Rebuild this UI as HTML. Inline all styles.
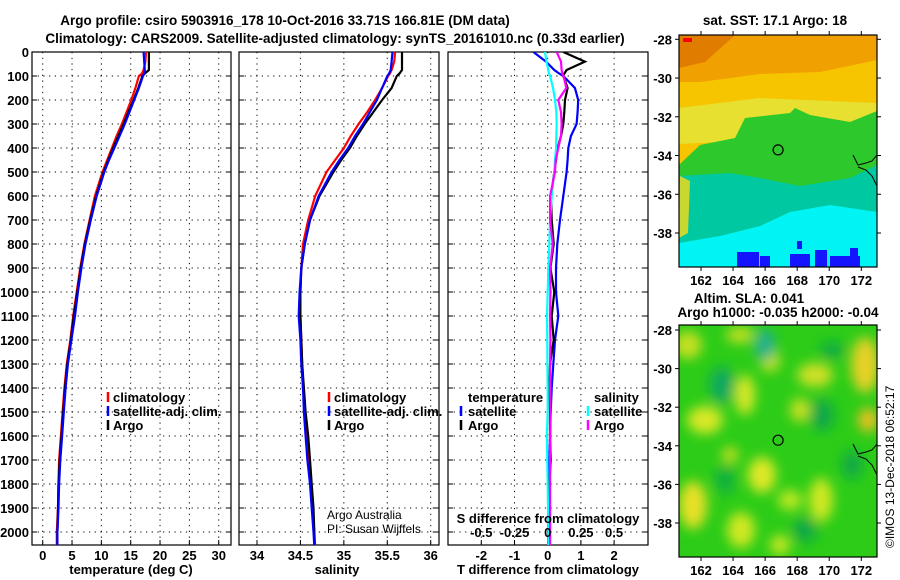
<!DOCTYPE html>
<html><head><meta charset="utf-8">
<style>
html,body{margin:0;padding:0;background:#fff;}
svg{display:block;font-family:"Liberation Sans",sans-serif;}
.t{font-weight:bold;font-size:13.5px;}
.tk{font-weight:bold;font-size:13px;}
</style></head>
<body>
<svg id="chart" width="900" height="580" viewBox="0 0 900 580">
<defs>
<clipPath id="c1"><rect x="32" y="52" width="199" height="493"/></clipPath>
<clipPath id="c2"><rect x="239" y="52" width="200" height="493"/></clipPath>
<clipPath id="c3"><rect x="448" y="52" width="200" height="493"/></clipPath>
<clipPath id="cm1"><rect x="679" y="35" width="198" height="232"/></clipPath>
<clipPath id="cm2"><rect x="679" y="325" width="198" height="232"/></clipPath>
<filter id="bl" x="-50%" y="-50%" width="200%" height="200%"><feGaussianBlur stdDeviation="6"/></filter>
</defs>
<text x="285" y="25" text-anchor="middle" class="t">Argo profile: csiro 5903916_178 10-Oct-2016 33.71S 166.81E (DM data)</text>
<text x="335" y="43" text-anchor="middle" class="t">Climatology: CARS2009. Satellite-adjusted climatology: synTS_20161010.nc (0.33d earlier)</text>
<g id="g"></g>
</svg>
<script>
// ---- data ----
const depths   = [0,40,75,90,100,150,200,250,300,350,400,450,500,600,700,800,900,1000,1100,1200,1300,1400,1500,1600,1700,1800,1900,2000,2060];
const tempClim = [17.6,17.5,17.2,16.9,16.4,15.8,15.1,14.3,13.5,12.6,11.8,11.0,10.2,8.9,8.0,7.1,6.4,5.8,5.2,4.7,4.1,3.7,3.4,3.1,2.8,2.7,2.6,2.4,2.4];
const tempSat  = [17.2,17.3,17.4,17.3,17.1,16.4,15.6,14.8,14.0,13.1,12.2,11.3,10.5,9.2,8.2,7.3,6.6,6.0,5.5,4.9,4.3,3.9,3.6,3.3,3.0,2.8,2.7,2.5,2.5];
const tempArgo = [18.1,18.1,18.1,17.4,17.0,16.3,15.5,14.6,13.8,12.9,12.0,11.2,10.4,9.1,8.1,7.2,6.5,5.9,5.3,4.8,4.2,3.8,3.5,3.2,2.9,2.7,2.6,2.5,2.5];
const salClim  = [35.59,35.58,35.55,35.53,35.51,35.44,35.36,35.27,35.17,35.08,35.00,34.90,34.80,34.67,34.59,34.53,34.51,34.50,34.50,34.51,34.52,34.53,34.55,34.57,34.60,34.62,34.64,34.66,34.67];
const salSat   = [35.56,35.55,35.54,35.52,35.50,35.44,35.38,35.30,35.22,35.13,35.05,34.95,34.86,34.71,34.61,34.55,34.51,34.49,34.48,34.50,34.51,34.53,34.54,34.56,34.58,34.61,34.63,34.65,34.66];
const salArgo  = [35.67,35.67,35.67,35.64,35.61,35.55,35.44,35.34,35.24,35.15,35.07,34.97,34.88,34.72,34.61,34.55,34.51,34.50,34.50,34.51,34.52,34.54,34.56,34.59,34.61,34.63,34.65,34.66,34.66];
const dTSat    = [-0.43,-0.05,0.2,0.35,0.47,0.82,0.92,0.9,0.87,0.7,0.62,0.6,0.57,0.47,0.37,0.29,0.25,0.25,0.32,0.22,0.17,0.12,0.09,0.07,0.05,0.04,0.03,0.02,0.02];
const dTArgo   = [0.47,1.12,0.57,0.5,0.47,0.6,0.52,0.5,0.47,0.4,0.3,0.25,0.2,0.1,0.12,0.18,0.08,0.2,0.12,0.18,0.07,0.05,0.07,0.07,0.09,0.05,0.04,0.02,0.02];
const dSSat    = [-0.02,-0.01,0.005,0.01,0.018,0.04,0.055,0.065,0.068,0.065,0.063,0.055,0.05,0.03,0.018,0.012,0.005,0.0,-0.005,-0.003,-0.002,0.0,0.0,-0.007,-0.003,0.0,0.002,0.005,0.005];
const dSArgo   = [0.068,0.1,0.105,0.11,0.12,0.14,0.08,0.1,0.105,0.1,0.08,0.06,0.055,0.018,0.018,0.038,0.018,0.02,0.018,0.02,0.018,0.018,0.02,0.018,0.018,0.018,0.018,0.018,0.018];
const depthTicks = [0,100,200,300,400,500,600,700,800,900,1000,1100,1200,1300,1400,1500,1600,1700,1800,1900,2000];
const tempTicks = [0,5,10,15,20,25,30];
const salTicks = [34,34.5,35,35.5,36];
const dTTicks = [-2,-1,0,1,2];
const dSTicks = [-0.5,-0.25,0,0.25,0.5];
const lonTicks = [162,164,166,168,170,172];
const latTicks = [-28,-30,-32,-34,-36,-38];
const argoLon = 166.81, argoLat = -33.71;

// ---- scales ----
const NS='http://www.w3.org/2000/svg';
const G=document.getElementById('g');
function mk(tag,a,parent){const e=document.createElementNS(NS,tag);for(const k in a)e.setAttribute(k,a[k]);(parent||G).appendChild(e);return e;}
const TOP=52, BOT=545;
const yD=d=>TOP+d*0.24;
const xT=t=>42.7+t*5.867;
const xS=s=>257+(s-34)*86.85;
const xDT=v=>547.7+v*33.2;
const xDS=v=>547.7+v*4*33.2;
const xLon=l=>701+(l-162)*16.03;
const yLat1=l=>39.3+(-28-l)*19.37;
const yLat2=l=>330+(-28-l)*19.3;

function panel(x0,x1,name,xs,ticks,fmt,showX){
  for(const d of depthTicks){
    const l=mk('line',{x1:x0,x2:x1,y1:yD(d),y2:yD(d),stroke:'#000','stroke-dasharray':'1.2 4.5','stroke-width':1});
    
    
    const tk=mk('line',{x1:x0,x2:x0+5,y1:yD(d),y2:yD(d),stroke:'#000'});
    
    
    const tk2=mk('line',{x1:x1-5,x2:x1,y1:yD(d),y2:yD(d),stroke:'#000'});
    
    
  }
  for(const v of ticks){
    const x=xs(v);
    const l=mk('line',{x1:x,x2:x,y1:TOP,y2:BOT,stroke:'#000','stroke-dasharray':'1.2 4.5'});
    
    
    const tk=mk('line',{x1:x,x2:x,y1:BOT-5,y2:BOT,stroke:'#000'});
    
    
    if(showX){
      const t=mk('text',{x:x,y:560,'text-anchor':'middle','class':'tk'});
      t.textContent=fmt(v);
      
      
    }
  }
  const r=mk('rect',{x:x0,y:TOP,width:x1-x0,height:BOT-TOP,fill:'none',stroke:'#000','stroke-width':1.2});
  
  
}
function series(vals,xs,color,clip,name){
  const pts=vals.map((v,i)=>xs(v).toFixed(1)+','+yD(depths[i]).toFixed(1)).join(' ');
  const p=mk('polyline',{points:pts,fill:'none',stroke:color,'stroke-width':2.2,'clip-path':'url(#'+clip+')'});
  
  
}
function txt(x,y,s,name,extra){const t=mk('text',Object.assign({x:x,y:y},extra||{}));t.textContent=s;
  
  return t;}
function legMark(x,y,color,name){const l=mk('line',{x1:x,x2:x,y1:y-10,y2:y,stroke:color,'stroke-width':2.5});
  
  }

for(const d of depthTicks){txt(29,yD(d)+5,String(d),'depth-tick-label',{'text-anchor':'end','class':'tk'});}

const L1=402,L2=416,L3=430;
// panel 1
panel(32,231,'temp-panel',xT,tempTicks,String,true);
series(tempClim,xT,'#ff0000','c1','temp-climatology-line');
series(tempArgo,xT,'#000000','c1','temp-argo-line');
series(tempSat,xT,'#0000ff','c1','temp-satellite-line');
txt(131,574,'temperature (deg C)','temp-x-axis-title',{'text-anchor':'middle','class':'tk'});
legMark(108,L1,'#ff0000','legend-climatology-marker');txt(113,L1,'climatology','legend-climatology',{'class':'tk'});
legMark(108,L2,'#0000ff','legend-satellite-marker');txt(113,L2,'satellite-adj. clim.','legend-satellite',{'class':'tk'});
legMark(108,L3,'#000','legend-argo-marker');txt(113,L3,'Argo','legend-argo',{'class':'tk'});

// panel 2
panel(239,439,'sal-panel',xS,salTicks,String,true);
series(salClim,xS,'#ff0000','c2','sal-climatology-line');
series(salArgo,xS,'#000000','c2','sal-argo-line');
series(salSat,xS,'#0000ff','c2','sal-satellite-line');
txt(337,574,'salinity','sal-x-axis-title',{'text-anchor':'middle','class':'tk'});
legMark(329,L1,'#ff0000','legend2-climatology-marker');txt(334,L1,'climatology','legend2-climatology',{'class':'tk'});
legMark(329,L2,'#0000ff','legend2-satellite-marker');txt(334,L2,'satellite-adj. clim.','legend2-satellite',{'class':'tk'});
legMark(329,L3,'#000','legend2-argo-marker');txt(334,L3,'Argo','legend2-argo',{'class':'tk'});
txt(327,519,'Argo Australia','credit-line-1',{'font-size':'12px'});
txt(327,533,'PI: Susan Wijffels','credit-line-2',{'font-size':'12px'});

// panel 3
panel(448,648,'diff-panel',xDT,dTTicks,String,true);
series(dTSat,xDT,'#0000ff','c3','dT-satellite-line');
series(dTArgo,xDT,'#000000','c3','dT-argo-line');
series(dSSat,xDS,'#00ffff','c3','dS-satellite-line');
series(dSArgo,xDS,'#ff00ff','c3','dS-argo-line');
txt(548,574,'T difference from climatology','dT-x-axis-title',{'text-anchor':'middle','class':'tk'});
txt(548,523,'S difference from climatology','dS-axis-title',{'text-anchor':'middle','class':'tk'});
for(const v of dSTicks){txt(xDS(v),537,String(v),'dS-tick-label',{'text-anchor':'middle','class':'tk'});}
txt(468,L1,'temperature','legend3-temperature',{'class':'tk'});
legMark(461,L2,'#0000ff','legend3-tsat-marker');txt(468,L2,'satellite','legend3-tsat',{'class':'tk'});
legMark(461,L3,'#000','legend3-targo-marker');txt(468,L3,'Argo','legend3-targo',{'class':'tk'});
txt(594,L1,'salinity','legend3-salinity',{'class':'tk'});
legMark(588,L2,'#00ffff','legend3-ssat-marker');txt(594,L2,'satellite','legend3-ssat',{'class':'tk'});
legMark(588,L3,'#ff00ff','legend3-sargo-marker');txt(594,L3,'Argo','legend3-sargo',{'class':'tk'});

// maps
function mapAxes(top,h,yl,name){
  for(const l of latTicks){const y=yl(l);
    txt(672,y+5,String(l),name+'-lat-label',{'text-anchor':'end','class':'tk'});
    const a=mk('line',{x1:675,x2:679,y1:y,y2:y,stroke:'#000'});
    const b=mk('line',{x1:877,x2:881,y1:y,y2:y,stroke:'#000'});}
  for(const l of lonTicks){const x=xLon(l);
    txt(x,top+h+18,String(l),name+'-lon-label',{'text-anchor':'middle','class':'tk'});
    const a=mk('line',{x1:x,x2:x,y1:top-4,y2:top,stroke:'#000'});
    const b=mk('line',{x1:x,x2:x,y1:top+h,y2:top+h+4,stroke:'#000'});}
  const r=mk('rect',{x:679,y:top,width:198,height:h,fill:'none',stroke:'#000','stroke-width':1.2});
  
}
function poly(pts,fill,clip,name,parent){const p=mk('polygon',{points:pts,fill:fill,'clip-path':'url(#'+clip+')'},parent);
  return p;}

// map 1 SST
poly('679,35 877,35 877,267 679,267','#f7c400','cm1','sst-base');
poly('679,35 877,35 877,60 820,72 760,74 700,82 679,82','#f0a000','cm1','sst-warm');
poly('679,35 735,35 705,62 679,68','#e07c00','cm1','sst-warmest');
poly('679,108 760,98 877,103 877,134 679,144','#e8e030','cm1','sst-yellow-band');
poly('679,165 700,145 735,138 745,118 790,113 795,108 810,115 850,122 877,111 877,267 679,267','#2cc82c','cm1','sst-green');
poly('679,176 730,173 760,178 800,186 850,178 877,165 877,267 679,267','#00c8a0','cm1','sst-teal');
poly('679,243 720,236 760,226 790,212 830,205 877,212 877,267 679,267','#00f4f4','cm1','sst-cyan');
poly('680,176 690,181 688,233 679,238','#c8d830','cm1','sst-left-yellow');
const blues=[[737,252,22,16],[760,256,10,12],[790,254,20,14],[815,250,12,17],[830,256,30,11],[850,248,8,19],[797,241,5,8]];
for(const b of blues){const r=mk('rect',{x:b[0],y:b[1],width:b[2],height:b[3],fill:'#1414ff','clip-path':'url(#cm1)'});}
{const r=mk('rect',{x:683,y:38,width:9,height:4,fill:'#ff0000'});}
{const p=mk('polyline',{points:'853,155 858,165 866,163 872,161 877,155 877,186 872,176 866,170 858,167',fill:'none',stroke:'#000','stroke-width':1,'clip-path':'url(#cm1)'});}
{const c=mk('circle',{cx:xLon(argoLon),cy:yLat1(argoLat),r:5,fill:'none',stroke:'#000','stroke-width':1.2});}
mapAxes(35,232,yLat1,'sst-map');
txt(775,25,'sat. SST: 17.1 Argo: 18','sst-map-title',{'text-anchor':'middle','class':'t','font-size':'13px'});

// map 2 SLA
poly('679,325 877,325 877,557 679,557','#2ccc18','cm2','sla-base');
const g2=mk('g',{'clip-path':'url(#cm2)'});
const gb=mk('g',{filter:'url(#bl)'},g2);
const blobs=[[688,345,14,14,'#c8e020'],[705,420,18,14,'#d8e828'],[693,505,14,24,'#e8e028'],[745,395,10,20,'#d8e828'],[770,360,10,12,'#c8e020'],[762,475,14,18,'#e0e828'],[800,410,10,12,'#c8e020'],[815,375,18,12,'#d0e028'],[865,365,14,28,'#e8d028'],[868,420,10,12,'#f0c020'],[821,500,12,22,'#d0e820'],[790,500,12,10,'#c0e820'],[741,530,14,18,'#d0e820'],[780,545,10,10,'#c8e820'],[740,335,14,8,'#c8e020'],[730,455,8,8,'#d0e020']];
const darks=[[722,385,12,18,'#10a860'],[765,345,10,16,'#20b090'],[822,415,12,16,'#10a848'],[832,350,12,8,'#10a848'],[725,480,10,14,'#10b040'],[852,465,10,14,'#10a848'],[805,530,12,12,'#10a848']];
for(const b of blobs.concat(darks)){const e=mk('ellipse',{cx:b[0],cy:b[1],rx:b[2],ry:b[3],fill:b[4]},gb);}
{const p=mk('polyline',{points:'853,444 858,454 866,452 872,450 877,444 877,475 872,465 866,459 858,456',fill:'none',stroke:'#000','stroke-width':1,'clip-path':'url(#cm2)'});}
{const c=mk('circle',{cx:xLon(argoLon),cy:yLat2(argoLat),r:5,fill:'none',stroke:'#000','stroke-width':1.2});}
mapAxes(325,232,yLat2,'sla-map');
txt(749,303,'Altim. SLA: 0.041','sla-map-title',{'text-anchor':'middle','class':'t','font-size':'12.5px'});
txt(778,317,'Argo h1000: -0.035 h2000: -0.04','sla-map-subtitle',{'text-anchor':'middle','class':'t','font-size':'12.5px'});
txt(0,0,'©IMOS 13-Dec-2018 06:52:17','timestamp',{'font-size':'12px',transform:'translate(894,548) rotate(-90)'});
</script>
</body></html>
